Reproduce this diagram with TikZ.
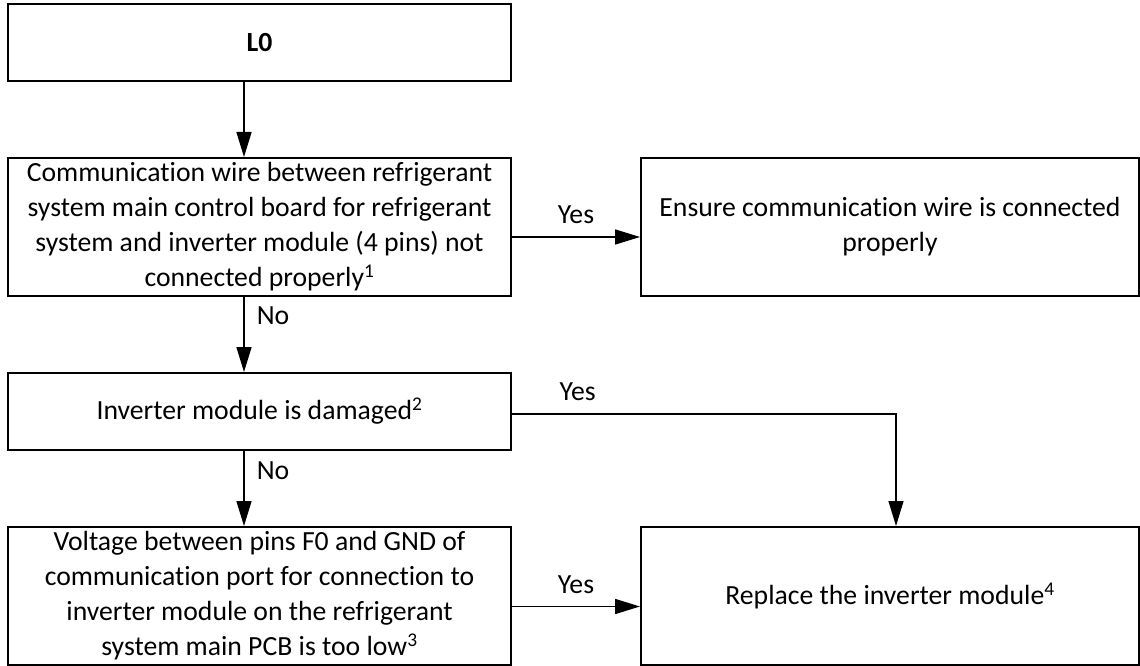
\documentclass[tikz,border=0pt]{standalone}
\usepackage{fontspec}
\setmainfont{Carlito}[Ligatures={NoCommon}]
\usetikzlibrary{arrows.meta}
\begin{document}
\begin{tikzpicture}[x=1pt,y=-1pt,
  every node/.style={font=\fontsize{27.7}{35}\selectfont},
  box/.style={draw, line width=2pt, inner sep=0pt, align=center, minimum width=503pt},
  conn/.style={line width=1.6pt, -{Triangle[length=25pt,width=15pt]}},
  thinconn/.style={conn, line width=1.3pt},
  lbl/.style={inner sep=0pt, anchor=base}]
\useasboundingbox (0,0) rectangle (1140,666);

\node[box, minimum height=77pt] (b1) at (259.5,42.5) {\textbf{L0}};
\node[box, minimum height=138pt] (b2) at (259.5,227) {Communication wire between refrigerant\\system main control board for refrigerant\\system and inverter module (4 pins) not\\connected properly\textsuperscript{1}};
\node[box, minimum width=498pt, minimum height=138pt] (b3) at (890,227) {Ensure communication wire is connected\\properly};
\node[box, minimum height=77pt] (b4) at (259.5,411.5) {Inverter module is damaged\textsuperscript{2}};
\node[box, minimum height=138pt] (b5) at (259.5,596) {Voltage between pins F0 and GND of\\communication port for connection to\\inverter module on the refrigerant\\system main PCB is too low\textsuperscript{3}};
\node[box, minimum width=498pt, minimum height=138pt] (b6) at (890,596) {Replace the inverter module\textsuperscript{4}};

\coordinate (turn) at (896,414);

\draw[conn] ([xshift=237pt]b1.south west) -- ([xshift=237pt]b2.north west);
\draw[conn] ([xshift=237pt]b2.south west) -- node[pos=0.25, inner sep=0pt, anchor=west, xshift=12pt] {No} ([xshift=237pt]b4.north west);
\draw[conn] ([xshift=237pt]b4.south west) -- node[pos=0.26, inner sep=0pt, anchor=west, xshift=12pt] {No} ([xshift=237pt]b5.north west);
\draw[conn] ([yshift=-10pt]b2.east) -- node[lbl, midway, yshift=14pt] {Yes} ([yshift=-10pt]b3.west);
\draw[conn] ([yshift=-10.5pt]b5.east) -- node[lbl, midway, yshift=13.5pt] {Yes} ([yshift=-10.5pt]b6.west);
\draw[thinconn] ([yshift=-2.5pt]b4.east) -- node[lbl, pos=0.171, yshift=13.3pt] {Yes} (turn) -- (turn |- b6.north);
\end{tikzpicture}
\end{document}
